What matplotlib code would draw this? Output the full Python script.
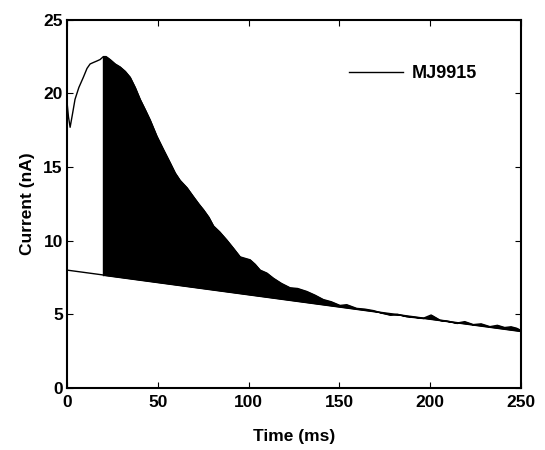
import numpy as np
import matplotlib.pyplot as plt

plt.rcParams['font.family'] = ['Liberation Sans', 'DejaVu Sans']
plt.rcParams['font.weight'] = 'bold'

# trace (time in ms, current in nA)
time_ms = [0, 0.8, 1.7, 3.0, 4.4, 6.5, 9.0, 11.0, 12.7, 14.5, 16.4, 18.2, 20.0,
           21.5, 23.7, 26.5, 29.2, 32.0, 34.7, 37.5, 40.2, 43.0, 45.7, 49.4,
           53.0, 56.7, 59.5, 62.2, 66.0, 69.5, 72.5, 75.1, 78.0, 80.6, 84.0,
           87.9, 91.5, 95.3, 98.0, 100.8, 103.5, 106.3, 110.0, 113.6, 118.0,
           122.8, 127.0, 132.0, 136.5, 141.1, 145.5, 150.3, 154.0, 159.5, 164.0,
           168.7, 173.0, 177.9, 182.0, 187.0, 191.0, 196.2, 200.5, 205.4, 209.0,
           214.6, 219.0, 223.7, 228.0, 232.9, 237.0, 241.0, 244.5, 247.6, 250.0]
current_nA = [19.4, 18.4, 17.7, 18.6, 19.6, 20.4, 21.1, 21.7, 22.0, 22.1, 22.2, 22.3, 22.5,
              22.5, 22.3, 22.0, 21.8, 21.5, 21.1, 20.4, 19.6, 18.9, 18.2, 17.1,
              16.2, 15.3, 14.6, 14.1, 13.6, 13.0, 12.5, 12.1, 11.6, 11.0, 10.6,
              10.05, 9.5, 8.9, 8.8, 8.7, 8.4, 8.0, 7.8, 7.45, 7.1,
              6.8, 6.75, 6.55, 6.3, 6.0, 5.85, 5.6, 5.65, 5.4, 5.35,
              5.25, 5.1, 4.96, 5.0, 4.85, 4.8, 4.73, 4.95, 4.6, 4.55,
              4.4, 4.5, 4.3, 4.35, 4.16, 4.25, 4.1, 4.15, 4.05, 3.9]

# linear baseline under the response
base_t = [0, 250]
base_nA = [8.0, 3.85]
fill_start = 20.0

t = np.array(time_ms)
y = np.array(current_nA)
base = np.interp(t, base_t, base_nA)

fig = plt.figure(figsize=(5.45, 4.5), dpi=100)
ax = fig.add_axes([0.123, 0.138, 0.833, 0.818])

ax.plot(t, y, color='black', lw=1.0, label='MJ9915')
ax.plot(base_t, base_nA, color='black', lw=1.0)
mask = t >= fill_start
ax.fill_between(t[mask], base[mask], y[mask], color='black', lw=0.8, edgecolor='black')
ax.plot([fill_start, fill_start], [np.interp(fill_start, base_t, base_nA),
                                   np.interp(fill_start, t, y)], color='black', lw=1.0)

ax.set_xlim(0, 250)
ax.set_ylim(0, 25)
ax.set_xticks([0, 50, 100, 150, 200, 250])
ax.set_yticks([0, 5, 10, 15, 20, 25])
ax.tick_params(direction='in', top=True, right=True, length=4, labelsize=12.5, pad=3)
ax.tick_params(axis='x', pad=5)
for lab in ax.get_xticklabels() + ax.get_yticklabels():
    lab.set_fontweight('bold')
for s in ax.spines.values():
    s.set_linewidth(1.5)

ax.set_xlabel('Time (ms)', fontsize=12.5, fontweight='bold', labelpad=14)
ax.set_ylabel('Current (nA)', fontsize=12.5, fontweight='bold', labelpad=6)

ax.legend(loc='upper left', bbox_to_anchor=(0.585, 0.92), frameon=False,
          prop={'size': 13, 'weight': 'bold'}, handlelength=3.0, handletextpad=0.5)

fig.savefig('out.png', dpi=100)
